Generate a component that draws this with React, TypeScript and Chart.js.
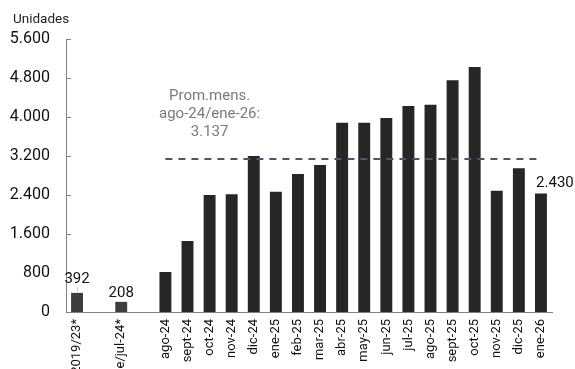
import { useEffect, useRef } from 'react';
import { Chart, registerables } from 'chart.js';

Chart.register(...registerables);

// Monthly units; the two leading bars are period averages, separated by blank slots
const categories = [
  'Prom. 2019/23*', '', 'Prom. ene/jul-24*', '',
  'ago-24', 'sept-24', 'oct-24', 'nov-24', 'dic-24',
  'ene-25', 'feb-25', 'mar-25', 'abr-25', 'may-25', 'jun-25', 'jul-25',
  'ago-25', 'sept-25', 'oct-25', 'nov-25', 'dic-25', 'ene-26',
];
const units: (number | null)[] = [
  392, null, 208, null,
  820, 1455, 2400, 2415, 3200,
  2465, 2830, 3015, 3880, 3880, 3980, 4225,
  4250, 4755, 5025, 2485, 2950, 2430,
];
const labelledIndexes = [0, 2, 21];
const monthlyAverage = 3137;
const averageStart = 4;
const averageLabel = ['Prom.mens.', 'ago-24/ene-26:', '3.137'];
const yTickValues = [0, 800, 1600, 2400, 3200, 4000, 4800, 5600];
const yTitle = 'Unidades';

const AXIS = '#808080';
const BAR = '#262626';
const BAR_AVG = '#3d3d3d';
const DASH = '#4c566b';
const FONT = 'Roboto';

const fmt = (v: number) => String(Math.round(v)).replace(/\B(?=(\d{3})+(?!\d))/g, '.');

const overlay = {
  id: 'overlay',
  afterDatasetsDraw(chart: any) {
    const { ctx, chartArea } = chart;
    const xs = chart.scales.x;
    const ys = chart.scales.y;
    ctx.save();

    // inward tick marks on the value axis
    ctx.strokeStyle = AXIS;
    ctx.lineWidth = 1;
    yTickValues.forEach((v) => {
      const py = Math.round(ys.getPixelForValue(v)) + 0.5;
      ctx.beginPath();
      ctx.moveTo(chartArea.left, py);
      ctx.lineTo(chartArea.left + 5, py);
      ctx.stroke();
    });

    // axis title
    ctx.fillStyle = '#222';
    ctx.font = `13.5px ${FONT}`;
    ctx.textAlign = 'left';
    ctx.textBaseline = 'alphabetic';
    ctx.fillText(yTitle, 13, 23);

    // value labels
    ctx.font = `15px ${FONT}`;
    ctx.fillStyle = '#111';
    labelledIndexes.forEach((i) => {
      const v = units[i] as number;
      const px = xs.getPixelForValue(i);
      const top = ys.getPixelForValue(v);
      ctx.textAlign = 'center';
      if (i === 0) {
        ctx.strokeStyle = '#c8c8c8';
        ctx.beginPath();
        ctx.moveTo(Math.round(px) + 0.5, top);
        ctx.lineTo(Math.round(px) + 0.5, top - 6);
        ctx.stroke();
        ctx.fillText(fmt(v), px, top - 10);
      } else if (i === categories.length - 1) {
        ctx.fillText(fmt(v), px + 14, top - 7);
      } else {
        ctx.fillText(fmt(v), px, top - 5);
      }
    });

    // average annotation
    ctx.font = `15px ${FONT}`;
    ctx.fillStyle = '#7a7a7a';
    ctx.textAlign = 'center';
    ctx.textBaseline = 'middle';
    const ax = xs.getPixelForValue(6);
    const ay = ys.getPixelForValue(monthlyAverage);
    averageLabel.forEach((line, k) => {
      ctx.fillText(line, ax, ay - 27 - (averageLabel.length - 1 - k) * 18);
    });

    ctx.restore();
  },
};

export default function App() {
  const ref = useRef<HTMLCanvasElement>(null);

  useEffect(() => {
    Chart.defaults.font.family = FONT;
    const chart = new Chart(ref.current!, {
      type: 'bar',
      data: {
        labels: categories,
        datasets: [
          {
            type: 'line',
            data: categories.map((_, i) => (i >= averageStart ? monthlyAverage : null)),
            borderColor: DASH,
            borderWidth: 2,
            borderDash: [7, 6],
            pointRadius: 0,
            fill: false,
            order: 0,
          } as any,
          {
            type: 'bar',
            data: units,
            backgroundColor: units.map((_, i) => (i < averageStart ? BAR_AVG : BAR)),
            categoryPercentage: 1,
            barPercentage: 0.54,
            order: 1,
          },
        ],
      },
      options: {
        animation: false,
        responsive: false,
        maintainAspectRatio: false,
        layout: { padding: { top: 39, right: 23, left: 0, bottom: 0 } },
        plugins: { legend: { display: false }, tooltip: { enabled: false } },
        scales: {
          x: {
            grid: { display: false, drawTicks: false },
            border: { display: true, color: AXIS, width: 1 },
            ticks: {
              autoSkip: false,
              maxRotation: 90,
              minRotation: 90,
              padding: 7,
              color: '#111',
              font: { size: 13, family: FONT },
            },
            afterFit: (s: any) => {
              s.height = 57;
            },
          },
          y: {
            min: 0,
            max: 5600,
            grid: { display: false, drawTicks: false },
            border: { display: true, color: AXIS, width: 1 },
            ticks: {
              stepSize: 800,
              padding: 16,
              color: '#111',
              font: { size: 16, family: FONT },
              callback: (v: any) => fmt(Number(v)),
            },
            afterFit: (s: any) => {
              s.width = 66;
            },
          },
        },
      },
      plugins: [overlay],
    });
    return () => chart.destroy();
  }, []);

  return (
    <div style={{ position: 'fixed', left: 0, top: 0, width: 575, height: 369, background: '#fff' }}>
      <canvas ref={ref} width={575} height={369} style={{ display: 'block' }} />
    </div>
  );
}
